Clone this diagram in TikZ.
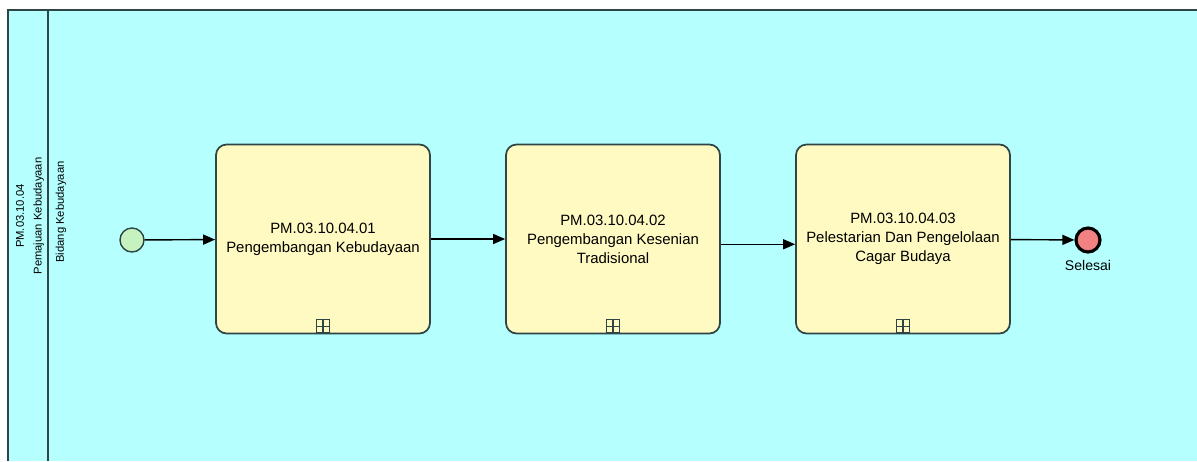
\documentclass[tikz,border=0pt]{standalone}
\usepackage{fontspec}
\setmainfont{Liberation Sans}
\usetikzlibrary{positioning,arrows.meta,calc}
\definecolor{poolbg}{HTML}{B5FFFF}
\definecolor{poolline}{HTML}{2F4444}
\definecolor{taskfill}{HTML}{FFFAC2}
\definecolor{startfill}{HTML}{C6F2C0}
\definecolor{endfill}{HTML}{F28282}
\tikzset{
  task/.style={draw=poolline, fill=taskfill, rounded corners=6pt, line width=1pt,
               align=center, minimum width=4.28cm, minimum height=3.78cm,
               font=\fontsize{8.5}{10.8}\selectfont, inner sep=2pt},
  evstart/.style={circle, draw=poolline, fill=startfill, line width=0.8pt,
                  minimum size=0.48cm, inner sep=0pt},
  evend/.style={circle, draw=black, fill=endfill, line width=1.8pt,
                minimum size=0.48cm, inner sep=0pt},
  submark/.style={draw=poolline, fill=taskfill, line width=0.7pt,
                  minimum size=0.26cm, inner sep=0pt,
                  path picture={\draw[poolline, line width=0.7pt]
                    (path picture bounding box.north) -- (path picture bounding box.south)
                    (path picture bounding box.west) -- (path picture bounding box.east);}},
  flow/.style={-{Triangle[length=2.4mm, width=2mm]}, line width=0.8pt},
  lanetxt/.style={rotate=90, align=center, font=\fontsize{6.4}{10}\selectfont},
}
\begin{document}
\begin{tikzpicture}[x=0.02cm, y=-0.02cm]
    \useasboundingbox (0,0) rectangle (1197,461);
    % pool and lane
    \fill[poolbg] (8,10) rectangle (1197,461);
    \draw[poolline, line width=1.2pt] (1197,10) -- (8,10) -- (8,461);
    \draw[poolline, line width=1.2pt] (48,10) -- (48,461);
    \node[lanetxt] (pool) at (30,216) {PM.03.10.04\\Pemajuan Kebudayaan};
    \node[lanetxt] (lane) at (61,212) {Bidang Kebudayaan};
    % events and tasks
    \node[evstart] (start) at (132,240) {};
    \node[task] (t1) at (323,239) {PM.03.10.04.01\\Pengembangan Kebudayaan};
    \node[task] (t2) at (613,239) {PM.03.10.04.02\\Pengembangan Kesenian\\Tradisional};
    \node[task] (t3) at (903,239) {PM.03.10.04.03\\Pelestarian Dan Pengelolaan\\Cagar Budaya};
    \node[evend] (end) at (1088,240) {};
    \node[font=\fontsize{8}{9}\selectfont, below=0.5pt of end] (endlbl) {Selesai};
    \foreach \t in {t1,t2,t3}
      \node[submark, anchor=south] (\t m) at ([yshift=0.5pt]\t.south) {};
    % flows
    \draw[flow] (start) -- (t1);
    \draw[flow] (t1) -- (t2);
    \draw[flow] ([yshift=-3pt]t2.east) -- ([yshift=-3pt]t3.west);
    \draw[flow] (t3) -- (end);
\end{tikzpicture}
\end{document}
